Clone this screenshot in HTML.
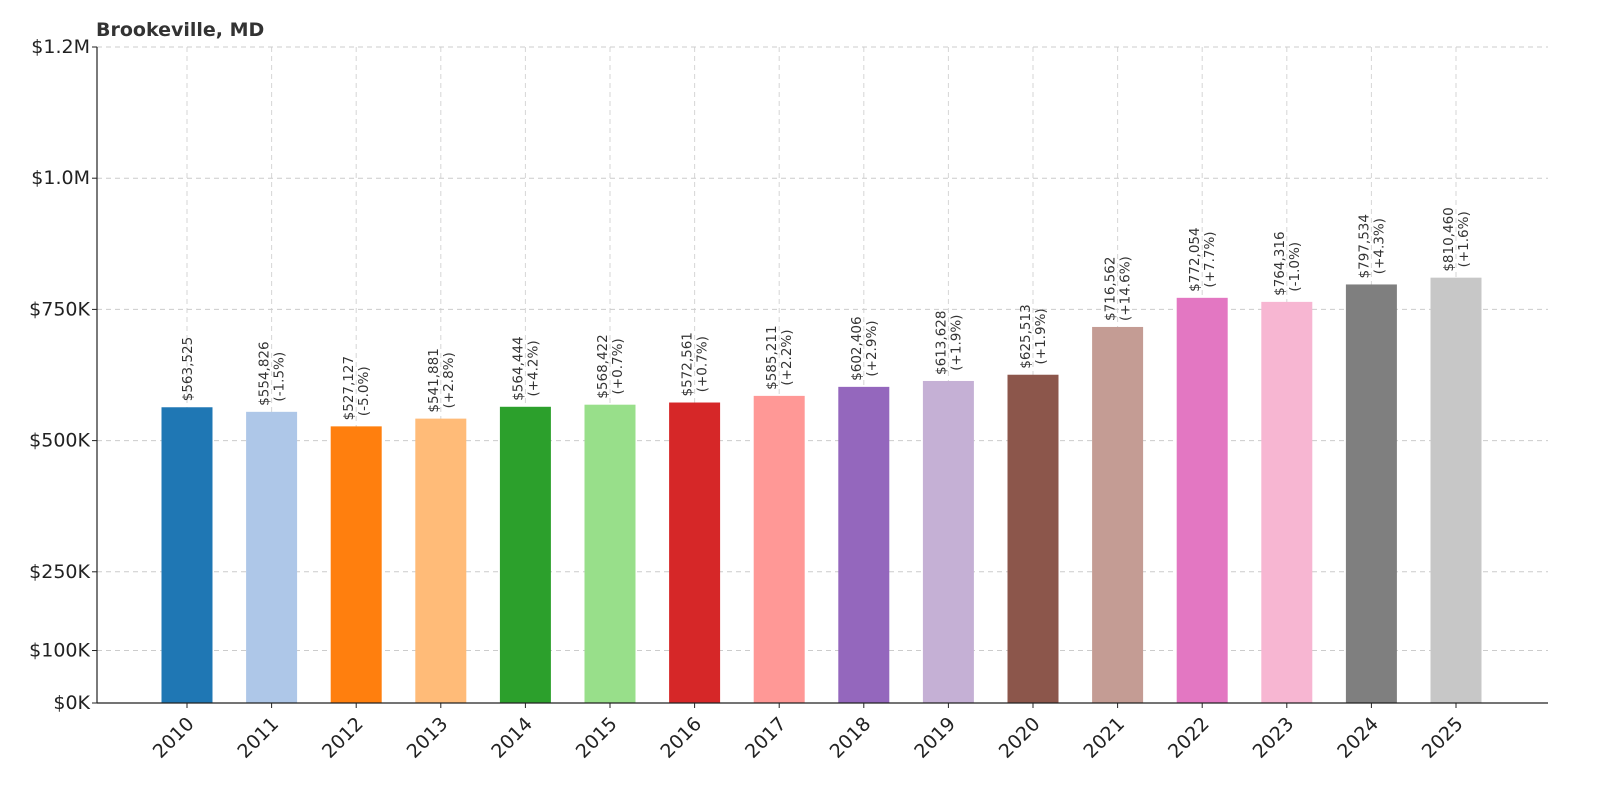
<!DOCTYPE html>
<html><head><meta charset="utf-8"><style>
html,body{margin:0;padding:0;background:#fff;overflow:hidden;width:1600px;height:800px;}
svg{display:block;font-family:"DejaVu Sans","Liberation Sans",sans-serif;}
</style></head><body>
<svg id="chart" width="1600" height="800" xmlns="http://www.w3.org/2000/svg">
<text x="96" y="36" font-size="19" font-weight="bold" fill="#333">Brookeville, MD</text>
<g id="grid"></g><g id="bars"></g><g id="labels"></g><g id="axes"></g>
</svg>
<script>
const years=["2010","2011","2012","2013","2014","2015","2016","2017","2018","2019","2020","2021","2022","2023","2024","2025"];
const values=[563525,554826,527127,541881,564444,568422,572561,585211,602406,613628,625513,716562,772054,764316,797534,810460];
const pcts=["","(-1.5%)","(-5.0%)","(+2.8%)","(+4.2%)","(+0.7%)","(+0.7%)","(+2.2%)","(+2.9%)","(+1.9%)","(+1.9%)","(+14.6%)","(+7.7%)","(-1.0%)","(+4.3%)","(+1.6%)"];
const colors=["#1f77b4","#aec7e8","#ff7f0e","#ffbb78","#2ca02c","#98df8a","#d62728","#ff9896","#9467bd","#c5b0d5","#8c564b","#c49c94","#e377c2","#f7b6d2","#7f7f7f","#c7c7c7"];
const tickVals=[0,100000,250000,500000,750000,1000000,1250000];
const tickLabels=["$0K","$100K","$250K","$500K","$750K","$1.0M","$1.2M"];
const NS="http://www.w3.org/2000/svg";
const X0=97,X1=1548,Y0=703,Y1=47,YMAX=1250000;
const y=v=>Y0-(v/YMAX)*(Y0-Y1);
const x=i=>187+i*((1456-187)/(years.length-1));
const BW=51;
function mk(tag,attrs,parent){const e=document.createElementNS(NS,tag);for(const k in attrs)e.setAttribute(k,attrs[k]);parent.appendChild(e);return e;}
const grid=document.getElementById('grid'),bars=document.getElementById('bars'),labels=document.getElementById('labels'),axes=document.getElementById('axes');
tickVals.forEach((v,i)=>{
  const l=mk('line',{x1:X0,x2:X1,y1:y(v),y2:y(v),stroke:'#ccc','stroke-dasharray':'5,4','stroke-width':1},grid);
  
  
  const t=mk('text',{x:X0-7,y:y(v)+6,'text-anchor':'end','font-size':19,fill:'#222'},axes);
  t.textContent=tickLabels[i];
  
  
  mk('line',{x1:X0-5,x2:X0,y1:y(v),y2:y(v),stroke:'#222'},axes);
});
years.forEach((yr,i)=>{
  const cx=x(i);
  const r=mk('rect',{x:cx-BW/2,y:y(values[i]),width:BW,height:Y0-y(values[i]),fill:colors[i]},bars);
  
  
  const g=mk('line',{x1:cx,x2:cx,y1:Y1,y2:Y0,stroke:'#ccc','stroke-dasharray':'5,4','stroke-width':1,opacity:0.8},grid);
  
  
  const top=y(values[i])-6;
  const val='$'+values[i].toLocaleString('en-US');
  if(pcts[i]){
    const t1=mk('text',{transform:`translate(${cx-3},${top}) rotate(-90)`,'font-size':13.5,fill:'#333'},labels);
    t1.textContent=val;
    
    
    const w=val.length*8.5, pw=pcts[i].length*8.5;
    const t2=mk('text',{transform:`translate(${cx+12},${top-(w-pw)/2}) rotate(-90)`,'font-size':13.5,fill:'#333'},labels);
    t2.textContent=pcts[i];
    
    
  } else {
    const t1=mk('text',{transform:`translate(${cx+5},${top}) rotate(-90)`,'font-size':13.5,fill:'#333'},labels);
    t1.textContent=val;
    
    
  }
  mk('line',{x1:cx,x2:cx,y1:Y0,y2:Y0+5,stroke:'#222'},axes);
  const xt=mk('text',{transform:`translate(${cx+8},${Y0+22}) rotate(-45)`,'text-anchor':'end','font-size':19,fill:'#222'},axes);
  xt.textContent=yr;
  
  
});
const ax=mk('line',{x1:X0,x2:X0,y1:Y1,y2:Y0,stroke:'#222','stroke-width':1.2},axes);


const bx=mk('line',{x1:X0,x2:X1,y1:Y0,y2:Y0,stroke:'#222','stroke-width':1.2},axes);


</script>
</body></html>
